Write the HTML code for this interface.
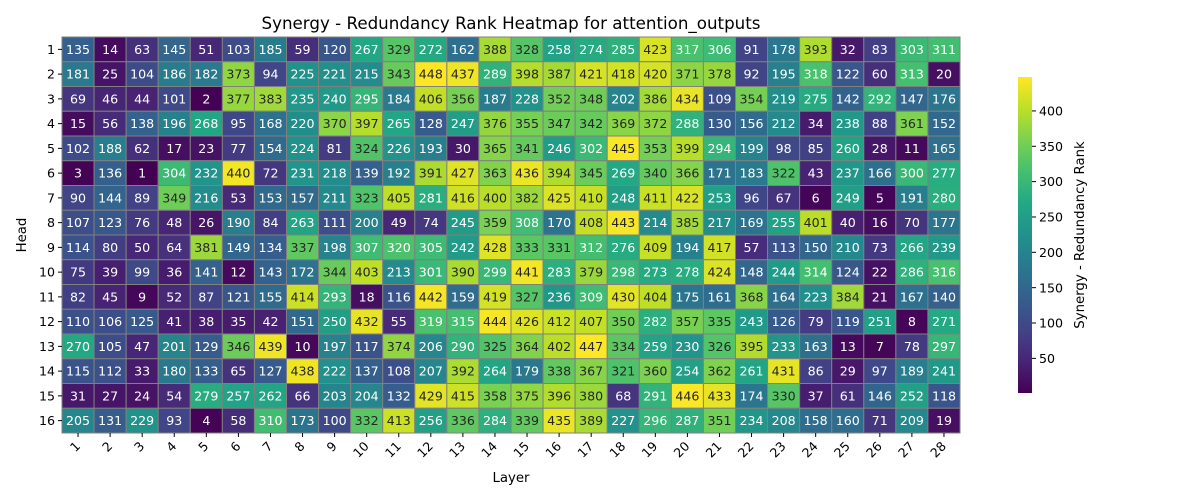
<!DOCTYPE html>
<html><head><meta charset="utf-8"><style>
body{margin:0;background:#fff;}
svg{display:block;font-family:"DejaVu Sans","Liberation Sans",sans-serif;}
</style></head><body>
<svg id="chart" width="1200" height="500" xmlns="http://www.w3.org/2000/svg">
<text x="511" y="29" text-anchor="middle" font-size="16.7">Synergy - Redundancy Rank Heatmap for attention_outputs</text>
<g id="cells"></g>
<g id="xaxis"></g>
<g id="yaxis"></g>
<text x="511" y="482" text-anchor="middle" font-size="13.3">Layer</text>
<text transform="translate(26,235) rotate(-90)" text-anchor="middle" font-size="13.3">Head</text>
<defs><linearGradient id="vir" x1="0" y1="1" x2="0" y2="0"></linearGradient></defs>
<rect x="1018" y="77" width="14" height="316" fill="url(#vir)"/>
<g id="cbar"></g>
<text transform="translate(1084,235) rotate(-90)" text-anchor="middle" font-size="13.3">Synergy - Redundancy Rank</text>
</svg>
<script>
const layers=[1,2,3,4,5,6,7,8,9,10,11,12,13,14,15,16,17,18,19,20,21,22,23,24,25,26,27,28];
const heads=[1,2,3,4,5,6,7,8,9,10,11,12,13,14,15,16];
const values=[
[135,14,63,145,51,103,185,59,120,267,329,272,162,388,328,258,274,285,423,317,306,91,178,393,32,83,303,311],
[181,25,104,186,182,373,94,225,221,215,343,448,437,289,398,387,421,418,420,371,378,92,195,318,122,60,313,20],
[69,46,44,101,2,377,383,235,240,295,184,406,356,187,228,352,348,202,386,434,109,354,219,275,142,292,147,176],
[15,56,138,196,268,95,168,220,370,397,265,128,247,376,355,347,342,369,372,288,130,156,212,34,238,88,361,152],
[102,188,62,17,23,77,154,224,81,324,226,193,30,365,341,246,302,445,353,399,294,199,98,85,260,28,11,165],
[3,136,1,304,232,440,72,231,218,139,192,391,427,363,436,394,345,269,340,366,171,183,322,43,237,166,300,277],
[90,144,89,349,216,53,153,157,211,323,405,281,416,400,382,425,410,248,411,422,253,96,67,6,249,5,191,280],
[107,123,76,48,26,190,84,263,111,200,49,74,245,359,308,170,408,443,214,385,217,169,255,401,40,16,70,177],
[114,80,50,64,381,149,134,337,198,307,320,305,242,428,333,331,312,276,409,194,417,57,113,150,210,73,266,239],
[75,39,99,36,141,12,143,172,344,403,213,301,390,299,441,283,379,298,273,278,424,148,244,314,124,22,286,316],
[82,45,9,52,87,121,155,414,293,18,116,442,159,419,327,236,309,430,404,175,161,368,164,223,384,21,167,140],
[110,106,125,41,38,35,42,151,250,432,55,319,315,444,426,412,407,350,282,357,335,243,126,79,119,251,8,271],
[270,105,47,201,129,346,439,10,197,117,374,206,290,325,364,402,447,334,259,230,326,395,233,163,13,7,78,297],
[115,112,33,180,133,65,127,438,222,137,108,207,392,264,179,338,367,321,360,254,362,261,431,86,29,97,189,241],
[31,27,24,54,279,257,262,66,203,204,132,429,415,358,375,396,380,68,291,446,433,174,330,37,61,146,252,118],
[205,131,229,93,4,58,310,173,100,332,413,256,336,284,339,435,389,227,296,287,351,234,208,158,160,71,209,19]
];
const cbTicks=[50,100,150,200,250,300,350,400];
const NS="http://www.w3.org/2000/svg";
const X0=62,X1=960,Y0=37,Y1=433,CB0=77,CB1=393;
const flat=values.flat();const vmin=Math.min(...flat),vmax=Math.max(...flat);
const cw=(X1-X0)/layers.length,ch=(Y1-Y0)/heads.length;
const xs=i=>X0+i*cw, ys=j=>Y0+j*ch;
const cy=v=>CB1-(v-vmin)/(vmax-vmin)*(CB1-CB0);
const stops=["#440154","#482475","#414487","#355f8d","#2a788e","#21918c","#22a884","#44bf70","#7ad151","#bddf26","#fde725"];
function hex(h){return [1,3,5].map(k=>parseInt(h.substr(k,2),16));}
function cmap(t){t=Math.max(0,Math.min(1,t));const p=t*10,i=Math.min(9,Math.floor(p)),f=p-i;const a=hex(stops[i]),b=hex(stops[i+1]);return a.map((c,k)=>Math.round(c+(b[k]-c)*f));}
function lum(c){const l=c.map(x=>{x/=255;return x<=0.03928?x/12.92:Math.pow((x+0.055)/1.055,2.4);});return 0.2126*l[0]+0.7152*l[1]+0.0722*l[2];}
function mk(tag,attrs,parent){const e=document.createElementNS(NS,tag);for(const k in attrs)e.setAttribute(k,attrs[k]);parent.appendChild(e);return e;}
const grad=document.getElementById('vir');
stops.forEach((s,i)=>mk('stop',{offset:(i*10)+'%','stop-color':s},grad));
const cells=document.getElementById('cells');
values.forEach((row,j)=>row.forEach((v,i)=>{
 const c=cmap((v-vmin)/(vmax-vmin));
 const r=mk('rect',{x:xs(i),y:ys(j),width:cw,height:ch,fill:`rgb(${c})`,stroke:'#808080','stroke-width':1},cells);
 
 
 const t=mk('text',{x:xs(i)+cw/2,y:ys(j)+ch/2+4.6,'text-anchor':'middle','font-size':12.6,fill:lum(c)>0.408?'#262626':'#ffffff'},cells);
 
 
 t.textContent=v;
}));
const xa=document.getElementById('xaxis');
layers.forEach((l,i)=>{
 const x=xs(i)+cw/2;
 mk('line',{x1:x,y1:Y1,x2:x,y2:Y1+4,stroke:'#000'},xa);
 const t=mk('text',{transform:`translate(${x+3},${Y1+14}) rotate(-45)`,'text-anchor':'end','font-size':12.6},xa);
 
 
 t.textContent=l;
});
const ya=document.getElementById('yaxis');
heads.forEach((h,j)=>{
 const y=ys(j)+ch/2;
 mk('line',{x1:X0-4,y1:y,x2:X0,y2:y,stroke:'#000'},ya);
 const t=mk('text',{x:X0-7,y:y+4.6,'text-anchor':'end','font-size':12.6},ya);
 
 
 t.textContent=h;
});
const cb=document.getElementById('cbar');
cbTicks.forEach(v=>{
 const y=cy(v);
 mk('line',{x1:1032,y1:y,x2:1036,y2:y,stroke:'#000'},cb);
 const t=mk('text',{x:1039,y:y+4.6,'font-size':12.6},cb);
 
 
 t.textContent=v;
});
</script>
</body></html>
